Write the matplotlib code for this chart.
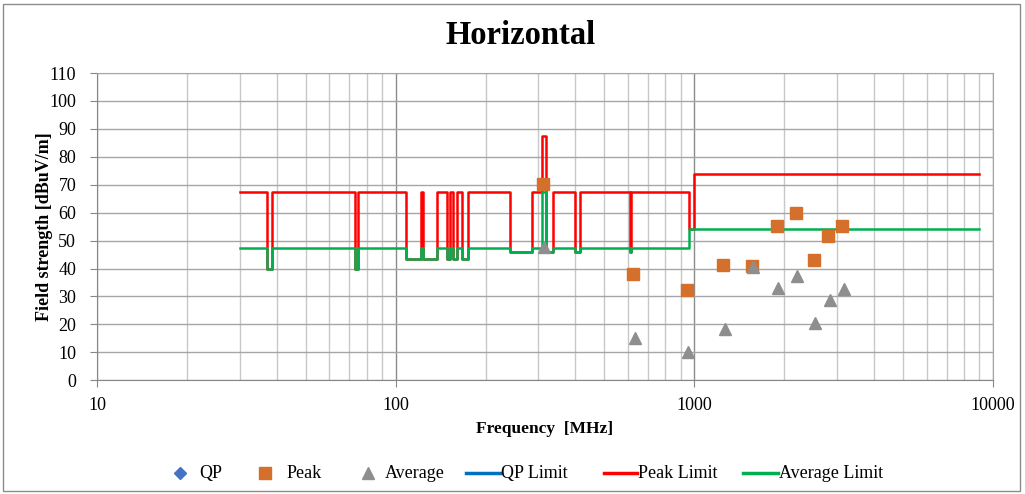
import matplotlib
matplotlib.use("Agg")
import matplotlib.pyplot as plt
from matplotlib.lines import Line2D
from matplotlib.patches import Rectangle
from matplotlib.ticker import FixedLocator, NullFormatter

plt.rcParams['font.family'] = ['Liberation Serif', 'DejaVu Serif']

# ---------------- data ----------------
title = "Horizontal"
x_label = "Frequency  [MHz]"
y_label = "Field strength [dBuV/m]"

# Limit step breakpoints (MHz) and levels (dBuV/m) starting at each breakpoint
limit_freq = [30, 37.2, 38.5, 73, 75, 108, 121.4, 123.4, 138, 148.5, 151.5, 155.5,
              160, 167, 174, 241, 285, 310, 318, 336, 398, 413, 608, 614, 960, 1000, 9000]
peak_limit = [67.5, 40, 67.5, 40, 67.5, 43.5, 67.5, 43.5, 67.5, 43.5, 67.5, 43.5,
              67.5, 43.5, 67.5, 46, 67.5, 87.5, 46, 67.5, 46, 67.5, 46, 67.5, 54, 74, 74]
avg_limit = [47.5, 40, 47.5, 40, 47.5, 43.5, 47.5, 43.5, 47.5, 43.5, 47.5, 43.5,
             47.5, 43.5, 47.5, 46, 47.5, 67.5, 46, 47.5, 46, 47.5, 46, 47.5, 54, 54, 54]

qp_freq = []
qp_level = []

peak_freq = [312, 624, 942, 1247, 1563, 1886, 2188, 2508, 2808, 3120]
peak_level = [70.3, 37.9, 32.3, 41.2, 40.9, 55.2, 60.0, 43.0, 51.5, 55.2]

avg_freq = [313, 632, 954, 1266, 1574, 1910, 2211, 2533, 2843, 3168]
avg_level = [47.8, 15.3, 10.1, 18.5, 40.4, 33.2, 37.4, 20.5, 28.9, 32.6]

x_ticks = [10, 100, 1000, 10000]
y_ticks = list(range(0, 111, 10))

legend_labels = ["QP", "Peak", "Average", "QP Limit", "Peak Limit", "Average Limit"]

# ---------------- figure ----------------
W, H = 1025, 494
fig = plt.figure(figsize=(W / 100, H / 100), dpi=100)
ax = fig.add_axes([97 / W, 1 - 380.3 / H, (993 - 97) / W, (380.3 - 73) / H])

ax.set_xscale('log')
ax.set_xlim(10, 10000)
ax.set_ylim(0, 110)

ax.xaxis.set_major_locator(FixedLocator(x_ticks))
ax.set_xticklabels([str(t) for t in x_ticks])
minor = [m * d for d in (10, 100, 1000) for m in range(2, 10)]
ax.xaxis.set_minor_locator(FixedLocator(minor))
ax.xaxis.set_minor_formatter(NullFormatter())
ax.set_yticks(y_ticks)

ax.grid(True, which='major', axis='both', color='#A6A6A6', lw=1.0)
ax.grid(True, which='major', axis='x', color='#8C8C8C', lw=1.0)
ax.grid(True, which='minor', axis='x', color='#C8C8C8', lw=1.0)
ax.set_axisbelow(True)

for s in ('left', 'bottom'):
    ax.spines[s].set_color('#868686')
for s in ('top', 'right'):
    ax.spines[s].set_color('#A6A6A6')
ax.tick_params(axis='both', which='major', direction='out', length=5, color='#868686',
               labelsize=13)
ax.tick_params(axis='y', which='major', pad=10)
ax.tick_params(axis='x', which='major', pad=7)
ax.tick_params(axis='x', which='minor', length=0)

red, green, blue = '#FF0000', '#00B050', '#0070C0'
orange, gray, navy = '#D4702C', '#8E8E8E', '#4472C4'

ax.step(limit_freq, peak_limit, where='post', color=red, lw=1.8, zorder=3)
ax.step(limit_freq, avg_limit, where='post', color=green, lw=1.8, zorder=4)
ax.plot(qp_freq, qp_level, 'D', color=navy, ms=6, zorder=5)
ax.plot(peak_freq, peak_level, 's', color=orange, ms=8.5, mec=orange, zorder=6)
ax.plot(avg_freq, avg_level, '^', color=gray, ms=9, zorder=6)

ax.set_xlabel(x_label, fontsize=12.5, fontweight='bold', labelpad=5)
ax.set_ylabel(y_label, fontsize=13, fontweight='bold', labelpad=-3)

fig.text(521 / W, 1 - 36 / H, title, ha='center', va='center', fontsize=23.5, fontweight='bold')

# manual legend (Excel-like spacing)
ly = 1 - 473 / H
leg_items = [
    ('marker', 'D', navy, 180, 199, 6),
    ('marker', 's', orange, 265, 287, 8),
    ('marker', '^', gray, 368, 385, 8.5),
    ('line', None, blue, (466, 500), 501, None),
    ('line', None, red, (604, 637), 638, None),
    ('line', None, green, (743, 778), 779, None),
]
for (kind, mk, col, hx, tx, ms), lab in zip(leg_items, legend_labels):
    if kind == 'marker':
        fig.add_artist(Line2D([hx / W], [ly], ls='none', marker=mk, color=col, ms=ms,
                              transform=fig.transFigure))
    else:
        fig.add_artist(Line2D([hx[0] / W, hx[1] / W], [ly, ly], color=col, lw=2.5,
                              transform=fig.transFigure))
    fig.text(tx / W, ly, lab, ha='left', va='center', fontsize=13)

fig.add_artist(Rectangle((3 / W, 3 / H), (1020 - 3) / W, (490 - 3) / H,
                         transform=fig.transFigure, fill=False, ec='#8C8C8C', lw=1.0))

fig.savefig("out.png", dpi=100)
